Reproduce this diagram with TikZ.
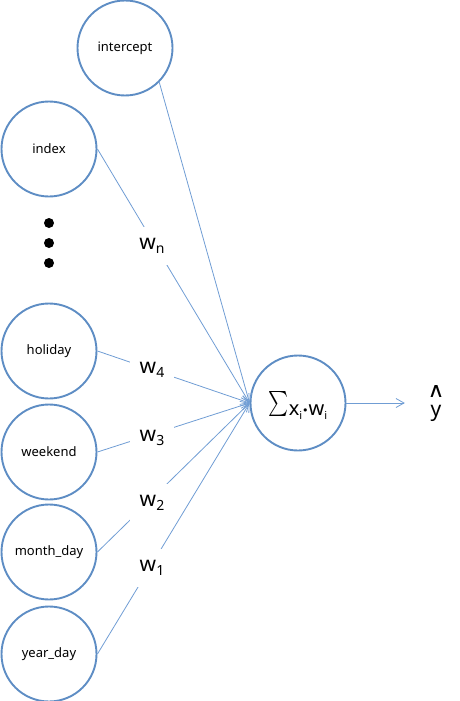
\documentclass[tikz,border=0pt]{standalone}
\usepackage{fontspec}
\setmainfont{Noto Sans}
\newfontfamily\symfont{DejaVu Sans}
\usetikzlibrary{arrows.meta}
\definecolor{circblue}{RGB}{94,141,196}
\definecolor{lineblue}{RGB}{112,157,212}
\newcommand{\wsub}[1]{\raisebox{-4pt}{\fontsize{14}{14}\selectfont #1}}
\begin{document}
\begin{tikzpicture}[x=1pt,y=-1pt,
  neuron/.style={circle, draw=circblue, line width=1.9pt, minimum size=95pt, inner sep=0pt, font=\fontsize{13}{13}\selectfont},
  conn/.style={draw=lineblue, line width=0.8pt, -{Straight Barb[length=8pt,width=9pt]}},
  wlab/.style={fill=white, minimum width=44pt, minimum height=38pt, inner sep=0pt, font=\fontsize{21}{21}\selectfont},
  dotnode/.style={circle, fill=black, minimum size=10pt, inner sep=0pt}]
\useasboundingbox (0,0) rectangle (459,701);

% input neurons
\node[neuron] (intercept) at (125,48) {intercept};
\node[neuron] (index) at (49,149) {index};
\node[neuron] (holiday) at (49,351) {holiday};
\node[neuron] (weekend) at (49,452) {weekend};
\node[neuron] (monthday) at (49,552) {month\_day};
\node[neuron] (yearday) at (49,654) {year\_day};

% ellipsis dots
\node[dotnode] (dot1) at (49,223) {};
\node[dotnode] (dot2) at (49,243) {};
\node[dotnode] (dot3) at (49,263) {};

% summation neuron
\node[neuron] (sum) at (298,403) {};
\node (sumlab) at (298,405) {\raisebox{-1pt}{\resizebox{20pt}{25pt}{\raisebox{\depth}{$\sum$}}}\fontsize{20}{20}\selectfont x\raisebox{-4pt}{\fontsize{11}{11}\selectfont i}{\symfont\fontsize{11}{11}\selectfont\raisebox{1pt}{•}}w\raisebox{-4pt}{\fontsize{11}{11}\selectfont i}};

% output
\node[minimum width=62pt, inner sep=0pt, font=\fontsize{21}{21}\selectfont] (yhat) at (436,413) {y};
\node[inner sep=0pt] (hat) at (436,391.5) {\resizebox{17pt}{12pt}{\symfont ∧}};

% connectors
\draw[conn] (intercept.south east) -- (sum.west);
\draw[conn] (index.east) -- (sum.west);
\draw[conn] (holiday.east) -- (sum.west);
\draw[conn] (weekend.east) -- (sum.west);
\draw[conn] (monthday.east) -- (sum.west);
\draw[conn] (yearday.east) -- (sum.west);
\draw[conn] (sum.east) -- (yhat.west |- sum.east);

% weight labels
\node[wlab] (wn) at (152,246) {w\wsub{n}};
\node[wlab] (w4) at (152,370) {w\wsub{4}};
\node[wlab] (w3) at (152,438) {w\wsub{3}};
\node[wlab] (w2) at (152,503) {w\wsub{2}};
\node[wlab] (w1) at (152,568) {w\wsub{1}};
\end{tikzpicture}
\end{document}
